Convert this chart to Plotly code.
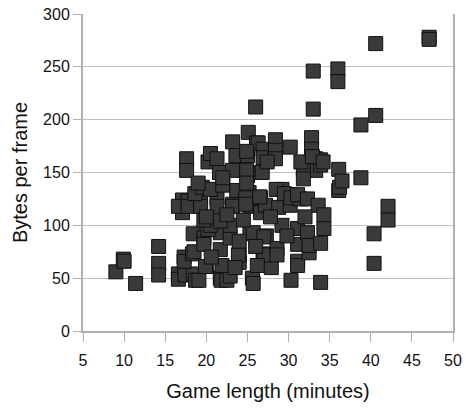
import plotly.graph_objects as go

game_length = [
    9.0, 9.9, 10.0, 11.4, 14.2, 14.2, 14.2,
    16.6, 16.6, 17.4, 18.4, 18.7, 19.1, 20.0, 21.7, 21.8, 22.5, 22.9, 24.0, 24.0, 25.6, 25.7, 26.9, 27.9, 30.3, 33.9,
    17.3, 17.3, 18.3, 18.5, 19.9, 21.9, 23.9,
    18.4, 19.7, 19.7, 21.7, 21.7, 22.9, 25.3, 27.3, 25.7, 27.0, 27.0, 28.6, 28.6, 29.2, 31.1, 31.1, 31.1, 31.1,
    32.3, 32.5, 32.5, 33.9, 34.3, 20.2, 20.5, 22.9, 19.7, 21.7, 24.0, 26.0, 29.8, 23.5, 20.6, 26.2,
    17.1, 17.1, 16.6, 17.8, 19.3, 21.3, 23.2, 25.3, 17.8, 19.3, 21.3, 23.2, 25.3, 18.6, 19.5, 20.5, 22.0, 23.7,
    25.2, 26.6, 26.6, 27.2, 28.8, 29.2, 30.2, 30.2, 28.5, 29.5, 30.3, 31.4, 31.1, 32.3, 33.6, 34.3, 24.8, 24.8,
    26.5, 36.1, 36.2, 20.0, 22.5, 24.5, 27.8, 32.0,
    17.6, 17.6, 20.2, 20.5, 21.3, 21.6, 23.2, 23.2, 23.6, 25.0, 25.0, 25.1, 25.1, 26.1, 26.3, 26.9, 26.9, 26.8,
    28.4, 28.4, 28.4, 30.2, 32.8, 32.8, 33.3, 33.3, 33.9, 33.9, 31.8, 31.8, 31.5, 32.9, 34.2, 27.4, 36.1, 36.5,
    38.8, 24.9, 24.9, 24.9, 22.0, 19.0,
    26.0, 33.0, 33.0, 36.0, 36.0, 40.6, 40.6, 38.8, 47.1, 47.1,
    42.1, 42.1, 40.4, 40.4,
]

bytes_per_frame = [
    56, 68, 66, 45, 80, 64, 53,
    54, 49, 53, 54, 48, 48, 61, 50, 48, 48, 52, 72, 65, 50, 45, 73, 60, 48, 46,
    70, 66, 73, 75, 61, 62, 72,
    92, 88, 82, 93, 77, 88, 92, 90, 93, 89, 72, 78, 72, 100, 97, 82, 66, 62,
    93, 74, 81, 83, 97, 96, 100, 100, 105, 104, 85, 80, 90, 60, 70, 62,
    124, 112, 118, 123, 124, 126, 120, 120, 118, 118, 118, 118, 118, 130, 136, 134, 138, 133,
    131, 126, 112, 119, 117, 134, 129, 119, 134, 130, 126, 125, 129, 125, 119, 110, 126, 120,
    127, 133, 136, 108, 110, 105, 108, 108,
    163, 152, 160, 168, 163, 150, 179, 152, 166, 166, 147, 150, 188, 178, 178, 172, 164, 150,
    181, 171, 163, 174, 183, 172, 163, 152, 162, 157, 153, 144, 160, 165, 160, 160, 153, 142,
    145, 170, 152, 140, 145, 140,
    212, 246, 210, 248, 236, 272, 204, 195, 278, 276,
    118, 105, 92, 64,
]

x_ticks = [5, 10, 15, 20, 25, 30, 35, 40, 45, 50]
y_ticks = [0, 50, 100, 150, 200, 250, 300]

fig = go.Figure(
    go.Scatter(
        x=game_length,
        y=bytes_per_frame,
        mode="markers",
        marker=dict(symbol="square", size=14, color="#3a3a3a",
                    line=dict(color="#111111", width=1)),
        showlegend=False,
    )
)

font = "Liberation Sans, Arial, sans-serif"
fig.update_layout(
    width=465, height=408,
    margin=dict(l=83, r=12, t=14, b=77),
    paper_bgcolor="white", plot_bgcolor="white",
    font=dict(family=font, size=16, color="#111111"),
)
fig.update_xaxes(
    range=[5, 50], tickvals=x_ticks, showgrid=False, zeroline=False,
    showline=True, linecolor="#b0b0b0", linewidth=2,
    ticks="outside", ticklen=9, tickcolor="#b0b0b0", tickwidth=1,
    ticklabelstandoff=5,
    title=dict(text="Game length (minutes)", font=dict(size=20), standoff=16),
    tickfont=dict(size=16), automargin=False,
)
fig.update_yaxes(
    range=[0, 300], tickvals=y_ticks, showgrid=True, gridcolor="#c0c0c0", gridwidth=1,
    zeroline=False, showline=True, linecolor="#b0b0b0", linewidth=2, mirror=True,
    ticks="outside", ticklen=8, tickcolor="#b0b0b0", tickwidth=1,
    title=dict(text="Bytes per frame", font=dict(size=20), standoff=10),
    tickfont=dict(size=16), automargin=False,
)

fig.write_html(
    "out.html",
    config={"displayModeBar": False},
    post_script="document.body.style.margin='0';",
)
